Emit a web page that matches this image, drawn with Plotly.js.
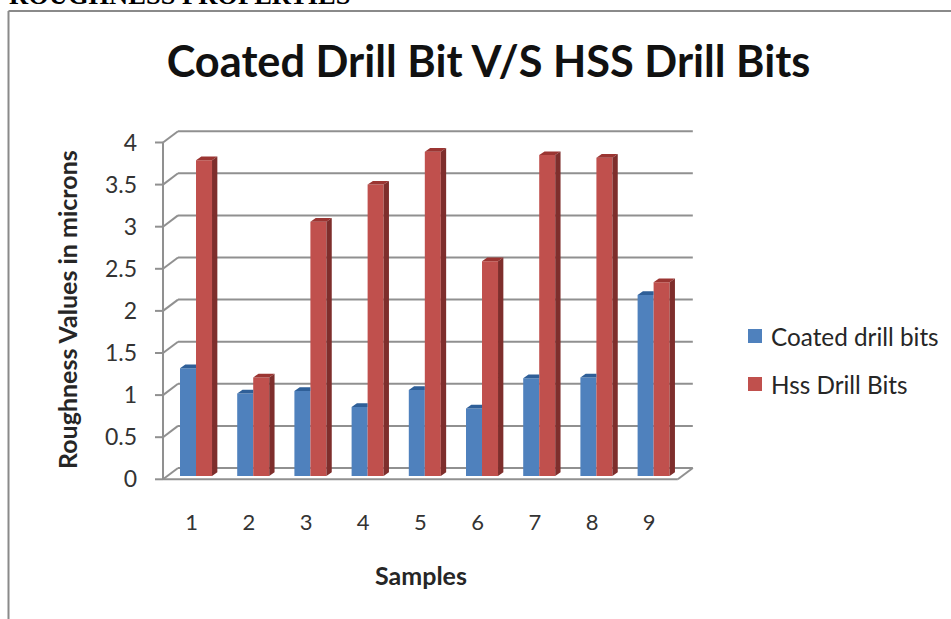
<!DOCTYPE html>
<html><head><meta charset="utf-8">
<script src="https://cdn.plot.ly/plotly-3.0.1.min.js"></script>
<style>html,body{margin:0;padding:0;background:#fff;overflow:hidden}</style></head>
<body><div id="chart" style="width:951px;height:619px"></div>
<script>
const samples = [1,2,3,4,5,6,7,8,9];
const coated = [1.28,0.98,1.01,0.82,1.02,0.80,1.16,1.17,2.15];
const hss = [3.75,1.17,3.02,3.46,3.85,2.55,3.81,3.78,2.30];
const yTicks = [0,0.5,1,1.5,2,2.5,3,3.5,4];
const yTickLabels = ['0','0.5','1','1.5','2','2.5','3','3.5','4'];
const seriesNames = ['Coated drill bits','Hss Drill Bits'];
const seriesColors = ['#4F81BD','#C0504D'];

const W = 951, H = 619;
const m = {l:155, r:255, t:127, b:136};
const xRange = [0.36, 9.818], yRange = [-0.044, 4.184];
const xFront = 0.5, xEnd = 9.5;
const depthX = 0.2622, depthY = 0.134;      // wall offset of the 3-D frame
const barW = 0.28, offC = -0.203, offH = 0.077, base = 0.04;
const faceX = 0.093, faceY = 0.044;         // depth of each bar
const font = 'Lato, Carlito, "Open Sans", sans-serif';
const grid = '#909090';

const px = v => (v - m.l) / (W - m.l - m.r);
const py = v => 1 - (v - m.t) / (H - m.t - m.b);

const shapes = [];
const line = (x0,y0,x1,y1) => shapes.push({type:'line',layer:'below',xref:'x',yref:'y',x0,y0,x1,y1,line:{color:grid,width:2}});
yTicks.forEach(t => {
  line(xRange[0], t, xFront, t);
  line(xFront, t, xFront+depthX, t+depthY);
  line(xFront+depthX, t+depthY, xEnd+depthX, t+depthY);
});
line(xFront, 0, xFront, 4);
line(xFront, 0, xEnd, 0);
line(xEnd, 0, xEnd+depthX, depthY);
// outer frame of the pasted picture
[[8.5,11,8.5,619],[8.5,11,951,11]].forEach(f => shapes.push({type:'line',layer:'below',xref:'paper',yref:'paper',
  x0:px(f[0]),y0:py(f[1]),x1:px(f[2]),y1:py(f[3]),line:{color:'#8a8a8a',width:2}}));
// legend swatches
[336,384].forEach((c,i) => shapes.push({type:'rect',xref:'paper',yref:'paper',x0:px(748),x1:px(762),y0:py(c-7),y1:py(c+7),
  fillcolor:seriesColors[i],line:{width:0}}));

function faces(vals, off, withSide) {
  const top = {x:[],y:[]}, side = {x:[],y:[]};
  samples.forEach((s,i) => {
    const xl = s+off, xr = xl+barW, yt = base+vals[i], yb = base;
    if (withSide) {
      top.x.push(xl,xl+faceX,xr+faceX,xr,xl,null);
      top.y.push(yt,yt+faceY,yt+faceY,yt,yt,null);
      side.x.push(xr,xr+faceX,xr+faceX,xr,xr,null);
      side.y.push(yt,yt+faceY,yb+faceY,yb,yt,null);
    } else {
      top.x.push(xl,xl+faceX,xr,xr,xl,null);
      top.y.push(yt,yt+faceY,yt+faceY,yt,yt,null);
    }
  });
  return {top, side};
}
const poly = (d,color) => ({type:'scatter',mode:'lines',x:d.x,y:d.y,fill:'toself',fillcolor:color,
  line:{width:0,color:color},hoverinfo:'skip',showlegend:false,connectgaps:false});
const fC = faces(coated, offC, false), fH = faces(hss, offH, true);

const traces = [
  {type:'bar',name:seriesNames[0],x:samples,y:coated,base:base,width:barW,offset:offC,
   marker:{color:seriesColors[0]},showlegend:false},
  {type:'bar',name:seriesNames[1],x:samples,y:hss,base:base,width:barW,offset:offH,
   marker:{color:seriesColors[1]},showlegend:false},
  poly(fC.top,'#2F5F98'),
  poly(fH.top,'#9B3532'),
  poly(fH.side,'#7E2E2C')
];

const note = (text,x,y,size,extra) => Object.assign({text,xref:'paper',yref:'paper',x:px(x),y:py(y),showarrow:false,
  xanchor:'center',yanchor:'middle',font:{family:font,size,color:'#262626'}},extra||{});

const layout = {
  width:W,height:H,margin:m,paper_bgcolor:'#fff',plot_bgcolor:'rgba(0,0,0,0)',
  font:{family:font,color:'#333'},
  barmode:'overlay',showlegend:false,
  title:{text:'Coated Drill Bit V/S HSS Drill Bits',font:{family:font,size:43.3,color:'#111',weight:700},
    xref:'paper',x:px(488.5),xanchor:'center',yref:'container',y:1-62/H,yanchor:'middle'},
  xaxis:{range:xRange,tickmode:'array',tickvals:samples,ticktext:samples.map(String),showgrid:false,zeroline:false,
    showline:false,ticks:'',ticklabelstandoff:24,tickfont:{family:font,size:22,color:'#333'}},
  yaxis:{range:yRange,tickmode:'array',tickvals:yTicks,ticktext:yTickLabels,showgrid:false,zeroline:false,
    showline:false,ticks:'',ticklabelstandoff:17,tickfont:{family:font,size:23,color:'#333'}},
  shapes,
  annotations:[
    {text:'<b>ROUGHNESS PROPERTIES</b>',xref:'paper',yref:'paper',x:px(7),y:py(12),xanchor:'left',yanchor:'bottom',
     showarrow:false,font:{family:'"Liberation Serif",serif',size:26.5,color:'#000'}},
    note('<b>Roughness Values in microns</b>',67,310,25,{textangle:-90}),
    note('<b>Samples</b>',421,575,25),
    note(seriesNames[0],769,336,24.3,{xanchor:'left'}),
    note(seriesNames[1],769,384,24.3,{xanchor:'left'})
  ]
};
Plotly.newPlot('chart',traces,layout,{displayModeBar:false});
</script></body></html>
